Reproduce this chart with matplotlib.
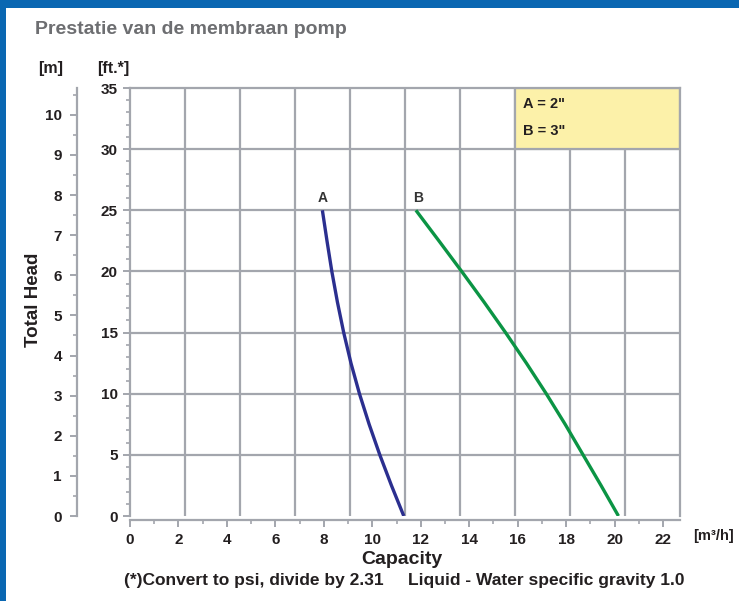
import matplotlib
matplotlib.use('Agg')
import matplotlib.pyplot as plt
import matplotlib.font_manager as fm
from matplotlib.patches import Rectangle
import numpy as np

# curve A (2") and curve B (3"): head in ft vs capacity in m3/h
head_ft = [25, 22.5, 20, 17.5, 15, 12.5, 10, 7.5, 5, 2.5, 0]
cap_A = [7.94, 8.13, 8.33, 8.56, 8.82, 9.12, 9.47, 9.87, 10.31, 10.79, 11.30]
cap_B = [11.80, 12.75, 13.69, 14.61, 15.50, 16.36, 17.18, 17.96, 18.70, 19.44, 20.16]

x_ticks = list(range(0, 23, 2))
ft_ticks = [0, 5, 10, 15, 20, 25, 30, 35]
m_ticks = list(range(0, 11))
legend_lines = ['A = 2"', 'B = 3"']

fams = {f.name for f in fm.fontManager.ttflist}
base = 'Liberation Sans' if 'Liberation Sans' in fams else 'DejaVu Sans'
narrow = 'Liberation Sans Narrow' if 'Liberation Sans Narrow' in fams else base
plt.rcParams['font.family'] = [base, 'DejaVu Sans']
plt.rcParams['font.weight'] = 'bold'

W, H = 739, 601
fig = plt.figure(figsize=(W / 100, H / 100), dpi=100)
fig.patch.set_facecolor('white')

blue = '#0a67b2'
fig.add_artist(Rectangle((0, 1 - 8 / H), 1, 8 / H, transform=fig.transFigure, color=blue, lw=0))
fig.add_artist(Rectangle((0, 0), 6 / W, 1, transform=fig.transFigure, color=blue, lw=0))

gray = '#a3a6ad'
txt = '#231f20'
xmax = 22.7
ymax = 35

ax = fig.add_axes([130 / W, (H - 516) / H, 550 / W, (516 - 88) / H])
ax.set_xlim(0, xmax)
ax.set_ylim(0, ymax)

for s in ax.spines.values():
    s.set_color(gray)
    s.set_linewidth(1.6)
ax.spines['bottom'].set_position(('outward', 3))

# 10 equal vertical grid columns, horizontal grid every 5 ft
for i in range(1, 10):
    ax.axvline(xmax * i / 10, color=gray, lw=1.6, zorder=1)
for v in ft_ticks[1:-1]:
    ax.axhline(v, color=gray, lw=1.6, zorder=1)

ax.set_xticks(x_ticks)
ax.set_xticks(range(0, 23), minor=True)
ax.set_yticks(ft_ticks)
ax.set_yticks(range(0, 36), minor=True)
ax.tick_params(axis='both', which='major', labelsize=11, colors=gray, labelcolor=txt, length=5, width=1.4, pad=4)
ax.tick_params(axis='both', which='minor', colors=gray, length=3, width=1.2)

ax.plot(cap_A, head_ft, color='#2b2f8f', lw=2.4, zorder=3, solid_capstyle='butt')
ax.plot(cap_B, head_ft, color='#0b9444', lw=2.4, zorder=3, solid_capstyle='butt')
ax.text(cap_A[0], head_ft[0] + 0.4, 'A', ha='center', va='bottom', fontsize=10, color='#333333')
ax.text(cap_B[0] + 0.1, head_ft[0] + 0.4, 'B', ha='center', va='bottom', fontsize=10, color='#333333')

ax.add_patch(Rectangle((xmax * 0.7, 30), xmax * 0.3, 5, facecolor='#fcf1a9', edgecolor=gray, lw=1.6, zorder=2))
ax.text(xmax * 0.7 + 0.35, 33.7, legend_lines[0], fontsize=10.5, va='center', color=txt, zorder=4)
ax.text(xmax * 0.7 + 0.35, 31.5, legend_lines[1], fontsize=10.5, va='center', color=txt, zorder=4)

# second axis in metres
ax2 = ax.twinx()
ax2.set_ylim(0, ymax / 3.2808)
ax2.yaxis.set_ticks_position('left')
ax2.yaxis.set_label_position('left')
ax2.spines['left'].set_position(('outward', 38))
ax2.spines['left'].set_color(gray)
ax2.spines['left'].set_linewidth(1.6)
for k in ['right', 'top', 'bottom']:
    ax2.spines[k].set_visible(False)
ax2.set_yticks(m_ticks)
ax2.set_yticks(np.arange(0, 10.6, 0.5), minor=True)
ax2.tick_params(axis='y', which='major', labelsize=11, colors=gray, labelcolor=txt, length=5, width=1.4, pad=6)
ax2.tick_params(axis='y', which='minor', colors=gray, length=3, width=1.2)

fig.text(35 / W, 1 - 30 / H, 'Prestatie van de membraan pomp', family=narrow, fontsize=14,
         color='#6d6e71', ha='left', va='center', weight='bold')
fig.text(51 / W, 1 - 68 / H, '[m]', fontsize=11.5, ha='center', va='center', color=txt)
fig.text(113 / W, 1 - 68 / H, '[ft.*]', fontsize=11.5, ha='center', va='center', color=txt)
fig.text(33 / W, 1 - 300 / H, 'Total Head', fontsize=13.5, rotation=90, ha='center', va='center', color=txt)
fig.text(713 / W, 1 - 536 / H, '[m\u00b3/h]', fontsize=10.5, ha='center', va='center', color=txt)
fig.text(402 / W, 1 - 560 / H, 'Capacity', fontsize=14, ha='center', va='center', color=txt)
fig.text(404 / W, 1 - 581 / H, '(*)Convert to psi, divide by 2.31     Liquid - Water specific gravity 1.0',
         fontsize=12.5, ha='center', va='center', color=txt)

fig.savefig('out.png', dpi=100)
